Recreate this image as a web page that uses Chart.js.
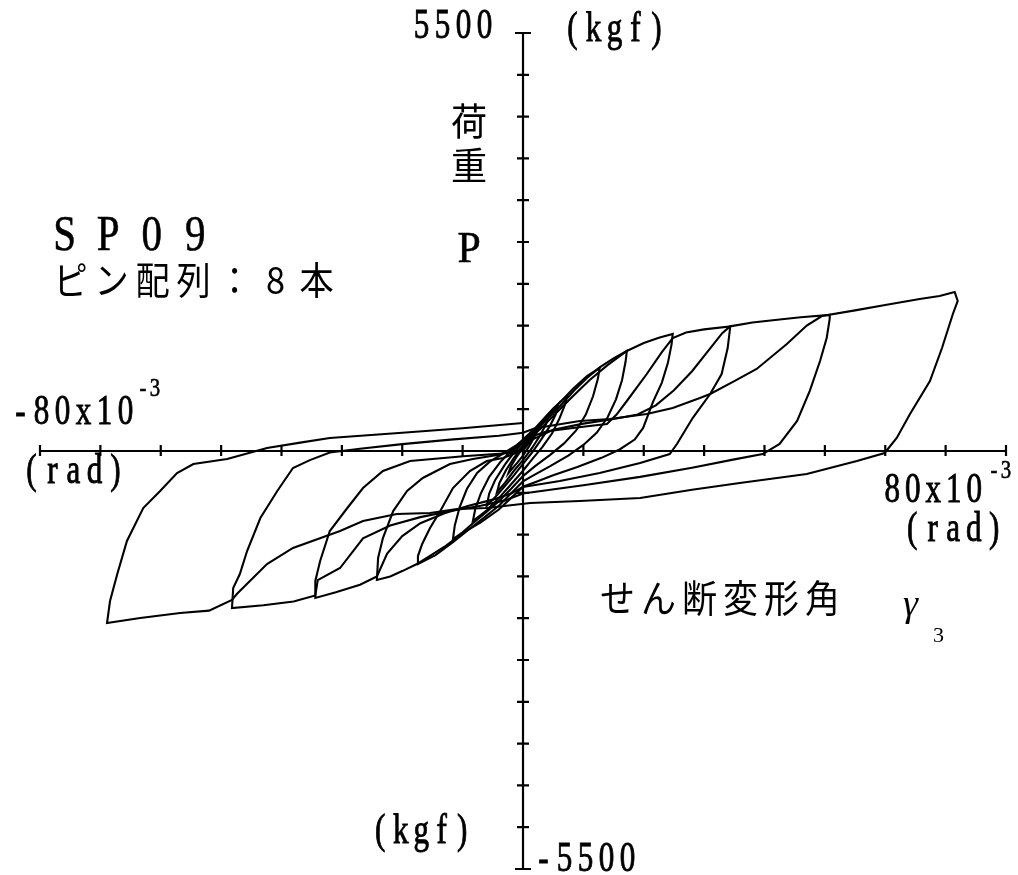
<!DOCTYPE html>
<html><head><meta charset="utf-8">
<script src="https://cdn.jsdelivr.net/npm/chart.js@4.4.1/dist/chart.umd.min.js"></script>
<style>html,body{margin:0;padding:0;background:#fff;}canvas{display:block;}</style>
</head><body>
<canvas id="c" width="1018" height="875"></canvas>
<script>
// shear deformation angle gamma3 (x10^-3 rad) vs load P (kgf), cycle by cycle
const cycle02 = [[0,0],[0.8,90],[1.6,180],[2.2,240],[1.8,170],[1,60],[0,-60],[-1,-160],[-2,-250],[-2.4,-290],[-2,-200],[-1,-70],[0,40]];
const cycle04 = [[0,40],[1,130],[2,240],[3,350],[4.2,450],[3.8,350],[2.8,200],[1.5,40],[0,-120],[-1.5,-260],[-3,-420],[-4.3,-540],[-3.9,-420],[-2.8,-250],[-1.5,-90],[0,60]];
const cycle06 = [[0,60],[1.5,200],[3,340],[4.5,480],[5.8,610],[5.4,480],[4.4,320],[3,150],[1.5,-20],[0,-170],[-1.5,-320],[-3,-460],[-4.5,-600],[-6,-720],[-5.6,-560],[-4.6,-380],[-3,-180],[-1.5,-20],[0,110]];
const cycle08 = [[0,110],[1.5,230],[3,380],[5,560],[7.3,724],[6.9,600],[6,420],[4.8,230],[3.2,50],[1.5,-110],[0,-260],[-2,-440],[-4,-620],[-6,-780],[-8.3,-921],[-7.9,-760],[-7,-560],[-5.6,-340],[-3.8,-150],[-2,0],[0,150]];
const cycle12 = [[0,150],[2,300],[4,470],[6,630],[8.3,820],[10.6,987],[12.7,1092],[12.4,950],[11.6,720],[10.4,480],[8.8,270],[6.8,100],[4.5,-50],[2,-200],[0,-330],[-2,-500],[-4,-660],[-6,-800],[-8.3,-950],[-10,-1070],[-11.6,-1158],[-11.3,-980],[-10.5,-740],[-9.3,-500],[-7.6,-290],[-5.5,-140],[-3,-20],[-1,80],[0.5,170]];
const cycle17 = [[0.5,170],[2,280],[4,420],[6,580],[8.5,800],[10.6,960],[12.7,1100],[15,1220],[17.2,1316],[17,1180],[16.4,930],[15.4,680],[14,440],[12.2,240],[10,80],[7.5,-60],[4.5,-200],[1.5,-330],[0,-400],[-2,-560],[-4,-720],[-6.5,-880],[-8.3,-990],[-11.6,-1200],[-14.5,-1370],[-17.4,-1487],[-17.4,-1382],[-16.7,-1224],[-15.4,-1013],[-13.7,-790],[-11.6,-487],[-8.8,-263],[-6,-132],[-3.3,-92],[-1,-20],[1,160]];
const cycle25 = [[1,160],[3,300],[5,460],[8,700],[11,930],[14,1130],[17.2,1316],[20,1420],[22.5,1490],[24.8,1540],[24.6,1400],[24,1160],[23,900],[21.5,640],[19.9,303],[18.5,150],[16,20],[13,-90],[9,-210],[5,-320],[2,-410],[0,-470],[-2,-620],[-4,-770],[-7,-940],[-10,-1080],[-13,-1260],[-15.4,-1380],[-17.4,-1480],[-20,-1580],[-22,-1650],[-24.2,-1697],[-24,-1408],[-23.2,-1145],[-21.5,-790],[-19.2,-526],[-16.6,-355],[-12.1,-171],[-8.3,-105],[-4,-50],[-1.5,20],[1,180]];
const cycle34 = [[1,180],[4,260],[8.3,303],[11,330],[13.9,355],[15.5,480],[17.2,658],[20.5,1013],[23,1300],[24.8,1487],[27,1560],[30,1600],[34.3,1640],[34.3,1618],[33.9,1355],[32.9,1013],[31,750],[28.1,434],[25.5,92],[24.3,-40],[19.4,-158],[12.7,-290],[6.1,-395],[0,-474],[-2,-560],[-5,-640],[-9,-720],[-13,-820],[-17,-950],[-20,-1120],[-22.5,-1350],[-24.2,-1650],[-27,-1760],[-31,-1860],[-34.4,-1934],[-34.4,-1710],[-33.6,-1447],[-32,-1053],[-29.1,-750],[-26.5,-487],[-23.2,-263],[-18.7,-132],[-9.9,-70],[-1,-20],[1.5,150]];
const cycle50 = [[1.5,150],[5,280],[10,360],[15,420],[19,480],[22,600],[25,800],[28,1050],[31,1350],[33,1550],[34.3,1640],[38,1690],[42.5,1730],[46,1760],[50.8,1790],[50.8,1737],[50.3,1487],[49.2,1184],[47.5,790],[45.4,395],[42.5,92],[39.7,-40],[35,-110],[28,-220],[19.4,-340],[10,-450],[0,-560],[-3,-650],[-7,-720],[-12,-790],[-17,-870],[-22,-980],[-26.5,-1150],[-30.3,-1540],[-34,-1700],[-34.4,-1900],[-38,-1980],[-43,-2030],[-48.2,-2066],[-48,-1803],[-46.9,-1619],[-45.7,-1316],[-43.5,-882],[-40.7,-526],[-38.1,-224],[-35.3,-120],[-32,-20],[-27,30],[-20,90],[-12,150],[-4,200],[0,240],[2,300]];
const cycle70 = [[2,300],[9.4,395],[14.4,421],[20.5,487],[24.8,566],[29.3,697],[31,750],[35,920],[38.7,1079],[43.7,1408],[47,1650],[49.5,1776],[55,1850],[60,1920],[65.7,2000],[69,2040],[71.5,2092],[72,1974],[71.2,1803],[69.4,1355],[67.4,921],[64.1,487],[61.9,171],[59.9,-26],[55.3,-132],[47,-303],[35.9,-421],[28,-510],[19.4,-618],[9.4,-658],[1.2,-684],[-6,-750],[-10.9,-763],[-15.4,-816],[-20.9,-829],[-26.5,-921],[-30.3,-1053],[-38.1,-1276],[-42.4,-1487],[-47.4,-1882],[-48.2,-1960],[-52,-2100],[-56.8,-2132],[-63.4,-2198],[-68.9,-2263],[-68.4,-1974],[-67.2,-1619],[-65.6,-1184],[-62.9,-750],[-60.1,-526],[-57.3,-290],[-54.6,-171],[-49,-105],[-42.4,40],[-36.9,110],[-32,171],[-20,240],[-10,300],[0,368]];
const cycles = [cycle02, cycle04, cycle06, cycle08, cycle12, cycle17, cycle25, cycle34, cycle50, cycle70];

// axis ranges and tick steps
const xRange = [-80, 80];
const yRange = [-5500, 5500];
const xTickStep = 10;
const yTickStep = 550;

// texts
const yTopLabel = "5500";
const yBottomLabel = "-5500";
const yUnit = "(kgf)";
const xLeftLabel = "-80x10";
const xRightLabel = "80x10";
const xExp = "-3";
const xUnit = "(rad)";
const yTitle = ["荷", "重"];
const yTitleSym = "P";
const specimen = ["S", "P", "0", "9"];
const pinText = ["ピ", "ン", "配", "列", "：", "8", "本"];
const xTitle = ["せ", "ん", "断", "変", "形", "角"];

const SERIF = '"Liberation Serif", "DejaVu Serif", serif';
const CJK = '"Noto Sans CJK JP", "Noto Sans CJK SC", sans-serif';

function drawChars(ctx, chars, startX, adv, baseY, size, family, sx, bold) {
  ctx.save();
  ctx.font = size + 'px ' + family;
  ctx.textAlign = 'center';
  ctx.textBaseline = 'alphabetic';
  ctx.fillStyle = '#000';
  ctx.strokeStyle = '#000';
  ctx.lineWidth = bold || 0;
  let i = 0;
  for (const ch of chars) {
    const cx = startX + adv * i + adv / 2;
    ctx.save();
    ctx.translate(cx, baseY);
    ctx.scale(sx, 1);
    ctx.fillText(ch, 0, 0);
    if (bold) ctx.strokeText(ch, 0, 0);
    ctx.restore();
    i++;
  }
  ctx.restore();
}

const axesPlugin = {
  id: 'crossAxes',
  beforeDatasetsDraw(chart) {
    const ctx = chart.ctx;
    const xs = chart.scales.x, ys = chart.scales.y;
    const x0 = xs.getPixelForValue(0), y0 = ys.getPixelForValue(0);
    ctx.save();
    ctx.strokeStyle = '#000';
    ctx.lineWidth = 2.2;
    ctx.beginPath();
    ctx.moveTo(xs.getPixelForValue(xRange[0]), y0);
    ctx.lineTo(xs.getPixelForValue(xRange[1]), y0);
    ctx.moveTo(x0, ys.getPixelForValue(yRange[1]));
    ctx.lineTo(x0, ys.getPixelForValue(yRange[0]));
    ctx.stroke();
    ctx.lineWidth = 2.2;
    ctx.beginPath();
    for (let v = xRange[0]; v <= xRange[1] + 1e-9; v += xTickStep) {
      const px = xs.getPixelForValue(v);
      ctx.moveTo(px, y0 - 6); ctx.lineTo(px, y0 + 5);
    }
    for (let v = yRange[0]; v <= yRange[1] + 1e-9; v += yTickStep) {
      const py = ys.getPixelForValue(v);
      const h = (Math.abs(Math.abs(v) - yRange[1]) < 1) ? 8 : 6;
      ctx.moveTo(x0 - h, py); ctx.lineTo(x0 + h, py);
    }
    ctx.stroke();
    ctx.restore();
  },
  afterDraw(chart) {
    const ctx = chart.ctx;
    // y axis labels
    drawChars(ctx, yTopLabel, 411, 21, 38, 42, SERIF, 0.74, 0.9);
    drawChars(ctx, yUnit, 562, 21, 41, 42, SERIF, 0.74, 0.9);
    drawChars(ctx, yBottomLabel, 533, 21, 871, 42, SERIF, 0.74, 0.9);
    drawChars(ctx, yUnit, 370, 20.5, 843, 42, SERIF, 0.74, 0.9);
    // x axis labels
    drawChars(ctx, xLeftLabel, 10, 21, 424, 42, SERIF, 0.74, 0.9);
    drawChars(ctx, xExp, 137, 12, 396, 26, SERIF, 0.8, 0.6);
    drawChars(ctx, xUnit, 21, 21, 483, 42, SERIF, 0.74, 0.9);
    drawChars(ctx, xRightLabel, 882, 20.5, 502, 42, SERIF, 0.74, 0.9);
    drawChars(ctx, xExp, 988, 12, 478, 26, SERIF, 0.8, 0.6);
    drawChars(ctx, xUnit, 902, 20.5, 541, 42, SERIF, 0.74, 0.9);
    // titles
    drawChars(ctx, [yTitle[0]], 449, 40, 135, 38, CJK, 0.95);
    drawChars(ctx, [yTitle[1]], 449, 40, 179, 38, CJK, 0.95);
    drawChars(ctx, [yTitleSym], 449, 40, 262, 44, SERIF, 0.95, 0.6);
    drawChars(ctx, specimen, 43, 43.5, 250, 50, SERIF, 0.82, 0.6);
    drawChars(ctx, pinText, 50, 41, 294, 38, CJK, 0.9);
    drawChars(ctx, xTitle, 597, 41, 612, 38, CJK, 0.92);
    ctx.save();
    ctx.fillStyle = '#000';
    ctx.font = 'italic 38px ' + SERIF;
    ctx.textAlign = 'left';
    ctx.fillText('γ', 903, 616);
    ctx.font = '22px ' + SERIF;
    ctx.fillText('3', 933, 642);
    ctx.restore();
  }
};

new Chart(document.getElementById('c').getContext('2d'), {
  type: 'scatter',
  data: {
    datasets: cycles.map(c => ({
      data: c.map(p => ({ x: p[0], y: p[1] })),
      showLine: true,
      borderColor: '#000',
      backgroundColor: '#000',
      borderWidth: 2.1,
      pointRadius: 0,
      tension: 0,
      fill: false
    }))
  },
  options: {
    responsive: false,
    animation: false,
    layout: { padding: { left: 40, right: 12, top: 33, bottom: 6 } },
    plugins: { legend: { display: false }, tooltip: { enabled: false } },
    scales: {
      x: { type: 'linear', min: xRange[0], max: xRange[1], display: false },
      y: { type: 'linear', min: yRange[0], max: yRange[1], display: false }
    }
  },
  plugins: [axesPlugin]
});
</script>
</body></html>
